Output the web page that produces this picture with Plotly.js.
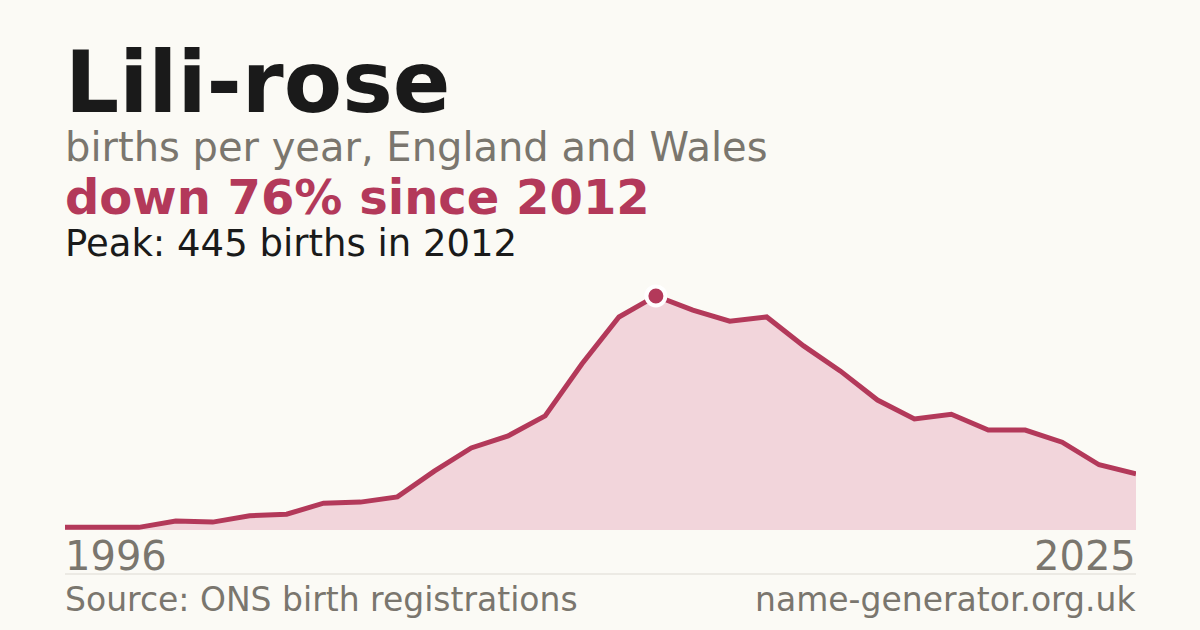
<!DOCTYPE html>
<html>
<head>
<meta charset="utf-8">
<script src="https://cdn.plot.ly/plotly-3.0.1.min.js"></script>
<style>
  html, body { margin: 0; padding: 0; background: #fbfaf5; }
  #chart { width: 1200px; height: 630px; }
</style>
</head>
<body>
<div id="chart"></div>
<script>
// births per year
var years = [1996, 1997, 1998, 1999, 2000, 2001, 2002, 2003, 2004, 2005,
             2006, 2007, 2008, 2009, 2010, 2011, 2012, 2013, 2014, 2015,
             2016, 2017, 2018, 2019, 2020, 2021, 2022, 2023, 2024, 2025];
var births = [5, 5, 5, 17, 15, 27, 30, 51, 53, 63,
              112, 156, 179, 217, 316, 405, 445, 418, 397, 405,
              350, 302, 247, 211, 220, 190, 190, 167, 124, 107];
var peakYear = 2012;
var peakBirths = 445;

var red = '#b3395a';
var grey = '#7a766e';
var ink = '#1a1a1a';
var font = 'DejaVu Sans';

// plot box: left 65, right 1136, bottom 530, top 267 (px)
var plotTop = 267, plotBottom = 530;
function py(px) { return (plotBottom - px) / (plotBottom - plotTop); }

var area = {
  x: years,
  y: births,
  type: 'scatter',
  mode: 'lines',
  fill: 'tozeroy',
  fillcolor: '#f2d5db',
  line: { color: red, width: 5 },
  hoverinfo: 'skip'
};

var peak = {
  x: [peakYear],
  y: [peakBirths],
  type: 'scatter',
  mode: 'markers',
  marker: { color: red, size: 19, line: { color: '#ffffff', width: 4 } },
  hoverinfo: 'skip'
};

function note(text, xref, x, xanchor, yPx, size, color, bold) {
  return {
    xref: xref, yref: 'paper', x: x, y: py(yPx),
    xanchor: xanchor, yanchor: 'middle', showarrow: false,
    borderpad: 0, borderwidth: 0,
    text: bold ? '<b>' + text + '</b>' : text,
    font: { family: font, size: size, color: color }
  };
}

var annotations = [
  note('Lili-rose', 'paper', 0, 'left', 82, 85, ink, true),
  note('births per year, England and Wales', 'paper', 0, 'left', 147, 40, grey, false),
  note('down 76% since 2012', 'paper', 0, 'left', 197, 48, red, true),
  note('Peak: 445 births in 2012', 'paper', 0, 'left', 243, 37, ink, false),
  note(String(years[0]), 'x', years[0], 'left', 556, 40, grey, false),
  note(String(years[years.length - 1]), 'x', years[years.length - 1], 'right', 556, 40, grey, false),
  note('Source: ONS birth registrations', 'paper', 0, 'left', 599, 33, grey, false),
  note('name-generator.org.uk', 'paper', 1, 'right', 599, 33, grey, false)
];

var layout = {
  width: 1200,
  height: 630,
  paper_bgcolor: '#fbfaf5',
  plot_bgcolor: '#fbfaf5',
  showlegend: false,
  margin: { l: 65, r: 64, t: plotTop, b: 630 - plotBottom, pad: 0 },
  xaxis: {
    range: [years[0], years[years.length - 1]],
    showgrid: false, zeroline: false, showticklabels: false, ticks: '', fixedrange: true
  },
  yaxis: {
    range: [0, 500],
    showgrid: false, zeroline: false, showticklabels: false, ticks: '', fixedrange: true
  },
  shapes: [{
    type: 'line', xref: 'paper', yref: 'paper',
    x0: 0, x1: 1, y0: py(574), y1: py(574),
    line: { color: '#dddad3', width: 1 }
  }],
  annotations: annotations
};

Plotly.newPlot('chart', [area, peak], layout, { displayModeBar: false, staticPlot: true });
</script>
</body>
</html>
